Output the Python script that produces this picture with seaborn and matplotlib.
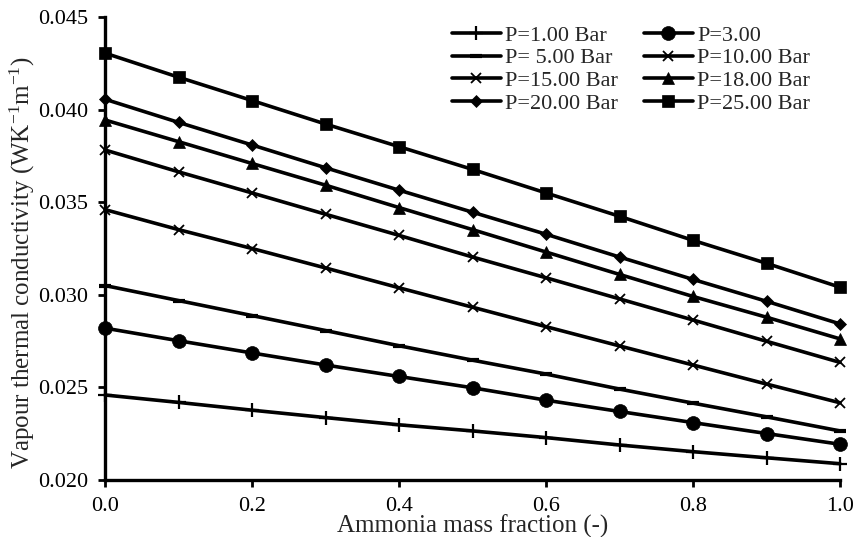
# Vapour thermal conductivity vs ammonia mass fraction

import numpy as np
import pandas as pd
import seaborn as sns
import matplotlib
matplotlib.use('Agg')
import matplotlib.pyplot as plt

x_frac = [0.0, 0.1, 0.2, 0.3, 0.4, 0.5, 0.6, 0.7, 0.8, 0.9, 1.0]

k_p1 = [0.02459, 0.02419, 0.02377, 0.02337, 0.02298, 0.02265, 0.02229, 0.02189, 0.02153, 0.02120, 0.02088]
k_p3 = [0.02820, 0.02752, 0.02686, 0.02621, 0.02559, 0.02498, 0.02431, 0.02370, 0.02310, 0.02251, 0.02193]
k_p5 = [0.03050, 0.02969, 0.02888, 0.02807, 0.02725, 0.02647, 0.02572, 0.02491, 0.02415, 0.02341, 0.02265]
k_p10 = [0.03460, 0.03352, 0.03250, 0.03145, 0.03038, 0.02933, 0.02828, 0.02724, 0.02621, 0.02518, 0.02417]
k_p15 = [0.03782, 0.03664, 0.03550, 0.03435, 0.03321, 0.03204, 0.03092, 0.02978, 0.02864, 0.02749, 0.02635]
k_p18 = [0.03944, 0.03827, 0.03709, 0.03592, 0.03471, 0.03352, 0.03231, 0.03110, 0.02991, 0.02879, 0.02762]
k_p20 = [0.04056, 0.03931, 0.03809, 0.03686, 0.03565, 0.03446, 0.03327, 0.03204, 0.03083, 0.02965, 0.02843]
k_p25 = [0.04305, 0.04175, 0.04049, 0.03922, 0.03800, 0.03677, 0.03550, 0.03424, 0.03294, 0.03170, 0.03041]

labels = ['P=1.00 Bar', 'P=3.00', 'P= 5.00 Bar', 'P=10.00 Bar',
          'P=15.00 Bar', 'P=18.00 Bar', 'P=20.00 Bar', 'P=25.00 Bar']
series = [k_p1, k_p3, k_p5, k_p10, k_p15, k_p18, k_p20, k_p25]
markers = ['+', 'o', '_', 'x', 'x', '^', 'D', 's']
msizes = [10, 10, 8, 7, 7, 9, 6.5, 8]
medges = [1.6, 0.5, 3.0, 1.3, 1.3, 0.5, 0.5, 0.5]

rows = []
for lab, vals in zip(labels, series):
    for xv, kv in zip(x_frac, vals):
        rows.append({'x': xv, 'k': kv, 'P': lab})
df = pd.DataFrame(rows)

sns.set_style('ticks')
plt.rcParams['font.family'] = ['Liberation Serif', 'DejaVu Serif']
plt.rcParams['mathtext.fontset'] = 'custom'
plt.rcParams['mathtext.rm'] = 'Liberation Serif'
plt.rcParams['mathtext.it'] = 'Liberation Serif:italic'

fig = plt.figure(figsize=(8.55, 5.37), dpi=100)
ax = fig.add_axes([105 / 855, 1 - 480 / 537, 735 / 855, 463 / 537])

for lab, m, ms, mew in zip(labels, markers, msizes, medges):
    sub = df[df['P'] == lab]
    sns.lineplot(data=sub, x='x', y='k', ax=ax, color='black', linewidth=2.6,
                 marker=m, markersize=ms, markeredgewidth=mew,
                 markeredgecolor='black', label=lab, clip_on=False)

h, l = ax.get_legend_handles_labels()
hd = dict(zip(l, h))
order = ['P=1.00 Bar', 'P= 5.00 Bar', 'P=15.00 Bar', 'P=20.00 Bar',
         'P=3.00', 'P=10.00 Bar', 'P=18.00 Bar', 'P=25.00 Bar']
ax.legend([hd[o] for o in order], order, ncol=2, frameon=False, fontsize=16,
          loc='upper left', bbox_to_anchor=(452 / 855, 1 - 25 / 537),
          bbox_transform=fig.transFigure, borderpad=0, borderaxespad=0,
          handlelength=2.2, handletextpad=0.2, columnspacing=1.15, labelspacing=0.1)

ax.set_xlim(0, 1)
ax.set_ylim(0.020, 0.045)
ax.set_xticks(np.arange(0, 1.01, 0.2))
ax.set_yticks(np.arange(0.020, 0.0451, 0.005))
ax.xaxis.set_major_formatter(matplotlib.ticker.FormatStrFormatter('%.1f'))
ax.yaxis.set_major_formatter(matplotlib.ticker.FormatStrFormatter('%.3f'))
ax.tick_params(axis='both', direction='out', length=5, width=2, labelsize=16, colors='black')
ax.tick_params(axis='y', pad=7)
ax.tick_params(axis='x', pad=7)
for s in ['left', 'bottom']:
    ax.spines[s].set_linewidth(2.4)
    ax.spines[s].set_color('black')
sns.despine(ax=ax)

ax.set_xlabel('Ammonia mass fraction (-)', fontsize=18)
ax.set_ylabel('Vapour thermal conductivity (WK$^{-1}$m$^{-1}$)', fontsize=18)
ax.xaxis.set_label_coords(0.5, -0.074)
ax.yaxis.set_label_coords(-0.092, 0.47)

fig.savefig('out.png', dpi=100)
